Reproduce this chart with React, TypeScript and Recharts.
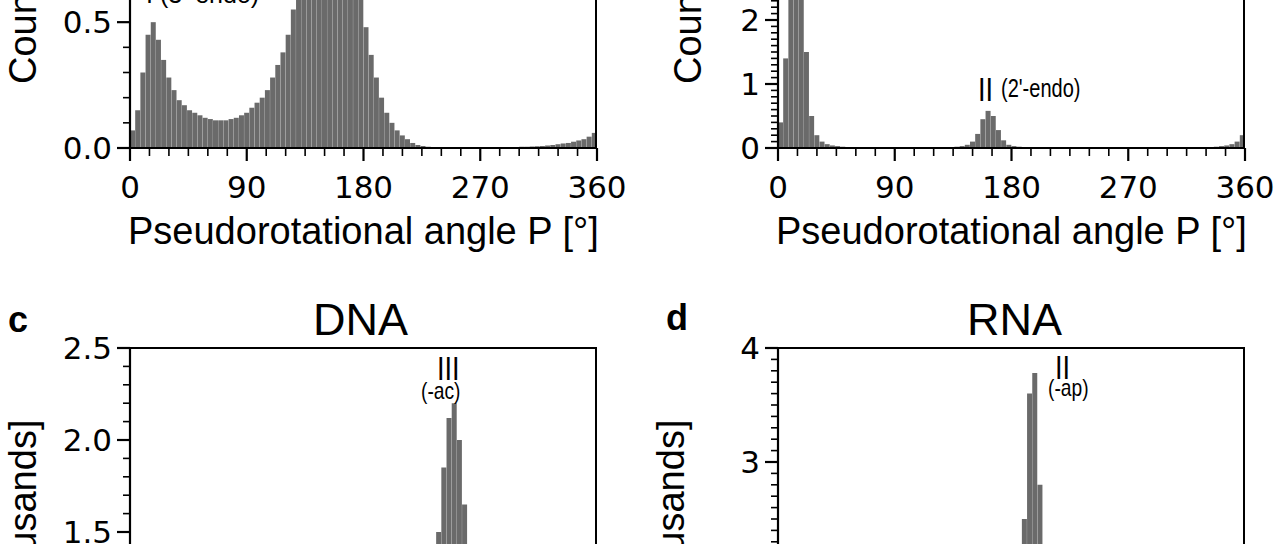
import React from 'react';
import { BarChart, Bar, XAxis, YAxis } from 'recharts';

// bin centres every 4 degrees: 2, 6, ..., 358
const binCenters = Array.from({ length: 90 }, (_, i) => 2 + 4 * i);

// counts in thousands
const sugarDna = [
  0.07, 0.15, 0.3, 0.45, 0.5, 0.43, 0.35, 0.28, 0.23, 0.19,
  0.17, 0.15, 0.14, 0.13, 0.12, 0.115, 0.11, 0.11, 0.11, 0.115,
  0.12, 0.13, 0.14, 0.16, 0.18, 0.2, 0.23, 0.28, 0.33, 0.38,
  0.45, 0.55, 0.65, 0.75, 0.85, 0.9, 0.95, 1.0, 1.02, 1.0,
  0.97, 0.92, 0.85, 0.75, 0.62, 0.48, 0.37, 0.28, 0.2, 0.14,
  0.1, 0.07, 0.05, 0.035, 0.02, 0.012, 0.008, 0.005, 0.004, 0.004,
  0.003, 0.003, 0.003, 0.003, 0.003, 0.003, 0.003, 0.003, 0.003, 0.003,
  0.003, 0.003, 0.004, 0.004, 0.004, 0.005, 0.005, 0.006, 0.007, 0.008,
  0.01, 0.012, 0.015, 0.018, 0.02, 0.025, 0.03, 0.035, 0.045, 0.06,
];
const sugarRna = [
  0.4, 1.4, 2.6, 3.0, 2.7, 1.5, 0.5, 0.2, 0.1, 0.06,
  0.04, 0.03, 0.02, 0.015, 0.012, 0.01, 0.01, 0.009, 0.008, 0.008,
  0.008, 0.008, 0.008, 0.009, 0.009, 0.01, 0.01, 0.01, 0.011, 0.012,
  0.012, 0.013, 0.014, 0.015, 0.02, 0.03, 0.05, 0.1, 0.22, 0.45,
  0.58, 0.5, 0.28, 0.12, 0.05, 0.03, 0.02, 0.015, 0.012, 0.01,
  0.01, 0.009, 0.009, 0.008, 0.008, 0.008, 0.008, 0.008, 0.008, 0.008,
  0.008, 0.008, 0.008, 0.008, 0.008, 0.008, 0.008, 0.008, 0.008, 0.008,
  0.008, 0.008, 0.008, 0.008, 0.008, 0.009, 0.009, 0.009, 0.01, 0.01,
  0.01, 0.01, 0.011, 0.012, 0.02, 0.03, 0.04, 0.06, 0.1, 0.2,
];
const torsionDna = [
  0.03, 0.03, 0.03, 0.04, 0.04, 0.05, 0.06, 0.07, 0.08, 0.08,
  0.07, 0.06, 0.05, 0.04, 0.04, 0.03, 0.03, 0.03, 0.03, 0.03,
  0.03, 0.03, 0.03, 0.03, 0.03, 0.03, 0.03, 0.04, 0.04, 0.05,
  0.06, 0.08, 0.1, 0.12, 0.15, 0.18, 0.22, 0.26, 0.3, 0.34,
  0.38, 0.42, 0.45, 0.47, 0.48, 0.47, 0.45, 0.42, 0.38, 0.34,
  0.32, 0.3, 0.3, 0.32, 0.4, 0.5, 0.6, 0.85, 1.15, 1.5,
  1.85, 2.12, 2.2, 2.0, 1.65, 1.25, 0.9, 0.6, 0.4, 0.25,
  0.17, 0.12, 0.09, 0.07, 0.06, 0.05, 0.05, 0.04, 0.04, 0.04,
  0.03, 0.03, 0.03, 0.03, 0.03, 0.03, 0.03, 0.03, 0.03, 0.03,
];
const torsionRna = [
  0.02, 0.02, 0.02, 0.02, 0.03, 0.03, 0.03, 0.03, 0.03, 0.03,
  0.03, 0.03, 0.03, 0.03, 0.04, 0.05, 0.06, 0.08, 0.1, 0.12,
  0.14, 0.15, 0.15, 0.14, 0.12, 0.1, 0.08, 0.07, 0.06, 0.06,
  0.06, 0.07, 0.08, 0.1, 0.12, 0.15, 0.18, 0.22, 0.26, 0.3,
  0.35, 0.4, 0.5, 0.65, 0.85, 1.1, 1.5, 2.5, 3.6, 3.78,
  2.8, 1.4, 0.6, 0.3, 0.18, 0.12, 0.09, 0.07, 0.06, 0.05,
  0.05, 0.04, 0.04, 0.04, 0.04, 0.04, 0.03, 0.03, 0.03, 0.03,
  0.03, 0.03, 0.03, 0.03, 0.03, 0.03, 0.03, 0.03, 0.03, 0.03,
  0.03, 0.03, 0.03, 0.02, 0.02, 0.02, 0.02, 0.02, 0.02, 0.02,
];

const angleTicks = [0, 15, 30, 45, 60, 75, 90, 105, 120, 135, 150, 165, 180, 195, 210, 225, 240, 255, 270, 285, 300, 315, 330, 345, 360];
const tenthTicks = (max: number) => Array.from({ length: Math.round(max * 10) + 1 }, (_, i) => i / 10);

const BAR = '#6a6a6a';
const TICK_FONT = 'DejaVu Sans';
const LABEL_FONT = 'Liberation Sans, Arial, sans-serif';
const X_AXIS_H = 60;
const Y_AXIS_W = 100;

const XTick = ({ x, y, payload }: any) => {
  const major = payload.value % 90 === 0;
  return (
    <g>
      <line x1={x} x2={x} y1={y} y2={y + (major ? 13 : 8)} stroke="#000" strokeWidth={major ? 2.2 : 1.6} />
      {major && (
        <text x={x} y={y + 50} textAnchor="middle" fontSize={31} fontFamily={TICK_FONT} fill="#000">
          {payload.value}
        </text>
      )}
    </g>
  );
};

const makeYTick = (labels: number[], fmt: (v: number) => string) => ({ x, y, payload }: any) => {
  const v = Math.round(payload.value * 10) / 10;
  const major = labels.some((l) => Math.abs(l - v) < 1e-6);
  return (
    <g>
      <line x1={x} x2={x - (major ? 13 : 7)} y1={y} y2={y} stroke="#000" strokeWidth={major ? 2.2 : 1.6} />
      {major && (
        <text x={x - 18} y={y + 11} textAnchor="end" fontSize={31} fontFamily={TICK_FONT} fill="#000">
          {fmt(v)}
        </text>
      )}
    </g>
  );
};

interface PanelProps {
  values: number[];
  left: number;
  top: number;
  plotLeft: number;
  plotTop: number;
  plotRight: number;
  plotBottom: number;
  yMax: number;
  yLabels: number[];
  fmt: (v: number) => string;
}

function Panel({ values, left, top, plotLeft, plotTop, plotRight, plotBottom, yMax, yLabels, fmt }: PanelProps) {
  const width = 640;
  const height = plotBottom - top + 80;
  const data = binCenters.map((x, i) => ({ x, v: values[i] }));
  const axis = { stroke: '#000', strokeWidth: 2.2 };
  return (
    <div style={{ position: 'absolute', left, top }}>
      <BarChart
        width={width}
        height={height}
        data={data}
        barCategoryGap={0}
        margin={{
          left: plotLeft - left - Y_AXIS_W,
          top: plotTop - top,
          right: left + width - plotRight,
          bottom: height - (plotBottom - top) - X_AXIS_H,
        }}
      >
        <XAxis type="number" dataKey="x" domain={[0, 360]} ticks={angleTicks} interval={0} height={X_AXIS_H}
          tickLine={false} tickSize={0} tickMargin={0} axisLine={axis} tick={<XTick />} />
        <YAxis type="number" domain={[0, yMax]} ticks={tenthTicks(yMax)} interval={0} width={Y_AXIS_W} allowDataOverflow
          tickLine={false} tickSize={0} tickMargin={0} axisLine={axis} tick={makeYTick(yLabels, fmt)} />
        <Bar dataKey="v" fill={BAR} isAnimationActive={false} />
      </BarChart>
      {/* top and right frame of the plot */}
      <div style={{ position: 'absolute', left: plotLeft - left, top: plotTop - top - 1, width: plotRight - plotLeft, height: plotBottom - plotTop, borderTop: '2.2px solid #000', borderRight: '2.2px solid #000', boxSizing: 'border-box', pointerEvents: 'none' }} />
    </div>
  );
}

const txt = (s: React.CSSProperties): React.CSSProperties => ({
  position: 'absolute', fontFamily: LABEL_FONT, color: '#000', whiteSpace: 'nowrap', lineHeight: 1, ...s,
});
const vert = (left: number, top: number): React.CSSProperties =>
  txt({ left, top, fontSize: 38, transform: 'rotate(-90deg)', transformOrigin: '0 0' });

export default function App() {
  const f1 = (v: number) => v.toFixed(1);
  const f0 = (v: number) => v.toFixed(0);
  return (
    <div style={{ position: 'fixed', left: 0, top: 0, width: 1280, height: 544, overflow: 'hidden', background: '#fff' }}>
      <Panel values={sugarDna} left={0} top={-170} plotLeft={130} plotTop={-154} plotRight={597} plotBottom={148}
        yMax={1.2} yLabels={[0, 0.5, 1.0]} fmt={f1} />
      <Panel values={sugarRna} left={640} top={-60} plotLeft={778} plotTop={-44} plotRight={1245} plotBottom={148}
        yMax={3} yLabels={[0, 1, 2, 3]} fmt={f0} />
      <Panel values={torsionDna} left={0} top={330} plotLeft={130} plotTop={348} plotRight={597} plotBottom={808}
        yMax={2.5} yLabels={[0, 0.5, 1.0, 1.5, 2.0, 2.5]} fmt={f1} />
      <Panel values={torsionRna} left={640} top={330} plotLeft={778} plotTop={348} plotRight={1245} plotBottom={804}
        yMax={4} yLabels={[0, 1, 2, 3, 4]} fmt={f0} />

      {/* axis titles */}
      <div style={txt({ left: 128, top: 212, fontSize: 38 })}>Pseudorotational angle P [°]</div>
      <div style={txt({ left: 776, top: 212, fontSize: 38 })}>Pseudorotational angle P [°]</div>
      <div style={vert(4, 84)}>Counts [thousands]</div>
      <div style={vert(669, 84)}>Counts [thousands]</div>
      <div style={vert(4, 747)}>Counts [thousands]</div>
      <div style={vert(652, 747)}>Counts [thousands]</div>

      {/* titles and panel letters */}
      <div style={txt({ left: 313, top: 297, fontSize: 45 })}>DNA</div>
      <div style={txt({ left: 967, top: 297, fontSize: 45 })}>RNA</div>
      <div style={txt({ left: 8, top: 302, fontSize: 36, fontWeight: 'bold' })}>c</div>
      <div style={txt({ left: 666, top: 300, fontSize: 36, fontWeight: 'bold' })}>d</div>

      {/* peak annotations */}
      <div style={txt({ left: 146, top: -18, fontSize: 25 })}>I (3'-endo)</div>
      <div style={txt({ left: 978, top: 72, fontSize: 34, transform: 'scaleX(0.8)', transformOrigin: '0 0' })}>II</div>
      <div style={txt({ left: 1001, top: 76, fontSize: 25, transform: 'scaleX(0.8)', transformOrigin: '0 0' })}>(2'-endo)</div>
      <div style={txt({ left: 437, top: 351, fontSize: 34, transform: 'scaleX(0.8)', transformOrigin: '0 0' })}>III</div>
      <div style={txt({ left: 421, top: 379, fontSize: 24, transform: 'scaleX(0.8)', transformOrigin: '0 0' })}>(-ac)</div>
      <div style={txt({ left: 1055, top: 350, fontSize: 34, transform: 'scaleX(0.8)', transformOrigin: '0 0' })}>II</div>
      <div style={txt({ left: 1048, top: 376, fontSize: 24, transform: 'scaleX(0.8)', transformOrigin: '0 0' })}>(-ap)</div>
    </div>
  );
}
